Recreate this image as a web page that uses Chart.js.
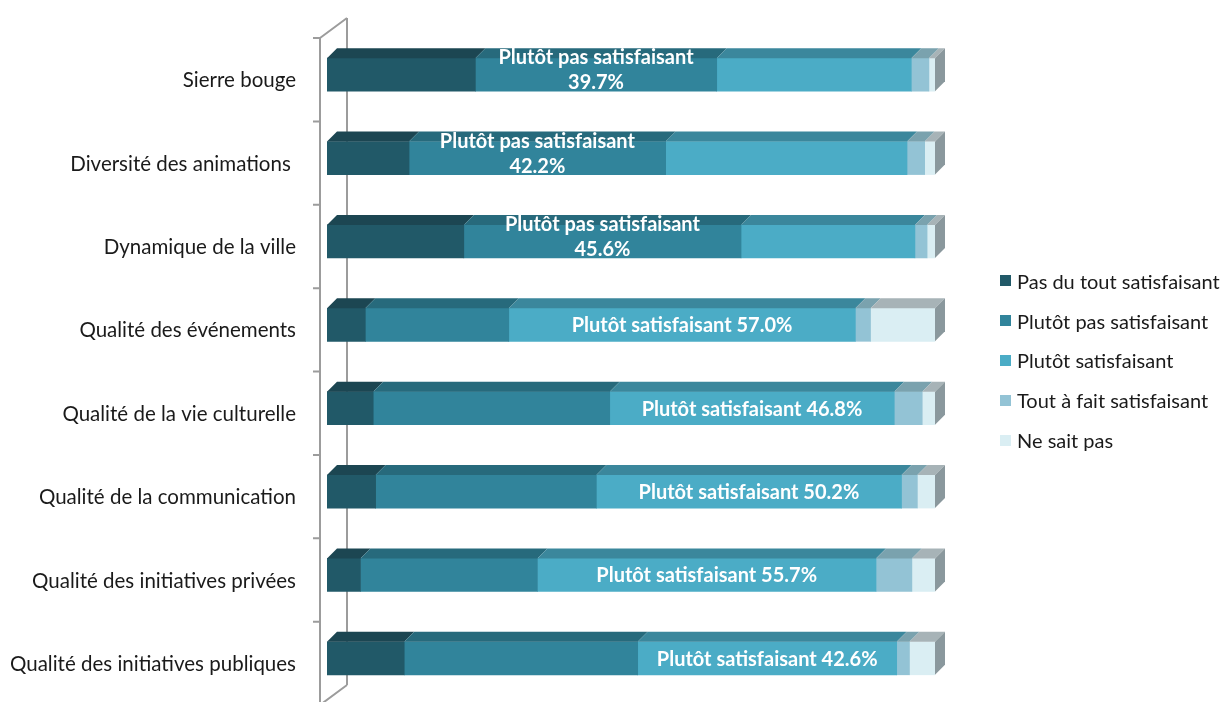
<!DOCTYPE html>
<html lang="fr">
<head>
<meta charset="utf-8">
<title>Satisfaction – animation et vie culturelle</title>
<script src="https://cdn.jsdelivr.net/npm/chart.js@4/dist/chart.umd.min.js"></script>
<style>
  html, body { margin: 0; padding: 0; background: #fff; }
  #wrap { position: relative; width: 1226px; height: 702px; overflow: hidden; }
  #chart { position: absolute; left: 0; top: 0; }
  #legend {
    position: absolute; left: 1000px; top: 261px;
    font-family: Lato, "Open Sans", sans-serif; font-size: 20px; color: #1a1a1a;
  }
  .item { display: flex; align-items: center; height: 39.8px; white-space: nowrap; }
  .swatch { width: 11px; height: 11px; margin-right: 6px; flex: none; }
</style>
</head>
<body>
<div id="wrap">
  <canvas id="chart" width="1226" height="702"></canvas>
  <div id="legend"></div>
</div>
<script>
"use strict";

const CATEGORIES = [
  "Sierre bouge",
  "Diversité des animations ",
  "Dynamique de la ville",
  "Qualité des événements",
  "Qualité de la vie culturelle",
  "Qualité de la communication",
  "Qualité des initiatives privées",
  "Qualité des initiatives publiques",
];

const SERIES_NAMES = [
  "Pas du tout satisfaisant",
  "Plutôt pas satisfaisant",
  "Plutôt satisfaisant",
  "Tout à fait satisfaisant",
  "Ne sait pas",
];

// share of answers in %, one value per category
const PAS_DU_TOUT = [24.4, 13.5, 22.5, 6.3, 7.6, 8.0, 5.5, 12.7];
const PLUTOT_PAS = [39.7, 42.2, 45.6, 23.6, 38.9, 36.3, 29.1, 38.4];
const PLUTOT_SAT = [32.0, 39.7, 28.6, 57.0, 46.8, 50.2, 55.7, 42.6];
const TOUT_A_FAIT = [2.9, 2.9, 2.0, 2.5, 4.6, 2.6, 5.9, 2.1];
const NE_SAIT_PAS = [1.0, 1.7, 1.3, 10.6, 2.1, 2.9, 3.8, 4.2];

const FRONT_COLORS = ["#215968", "#31849b", "#4bacc6", "#93c3d5", "#daeef3"];
const TOP_COLORS = ["#1c4652", "#276a7c", "#3b879c", "#7aa2ae", "#a7b3b7"];
const SIDE_COLOR = "#8a989d";
const WALL_COLOR = "#9c9c9c";
const DEPTH = 10;
const FONT = "Lato, 'Open Sans', sans-serif";

// 3D look: top faces of every segment, right-hand side face, and the axis wall
const bar3d = {
  id: "bar3d",
  beforeDatasetsDraw(chart) {
    const { ctx, chartArea: a } = chart;
    const n = CATEGORIES.length;
    const band = (a.bottom - a.top) / n;
    const fx = a.left - 7;
    const bx = a.left + 20;
    ctx.save();
    ctx.strokeStyle = WALL_COLOR;
    ctx.lineWidth = 2;
    ctx.beginPath();
    ctx.moveTo(fx, a.top + 5);
    ctx.lineTo(fx, a.bottom + 6);
    ctx.moveTo(bx, a.top - 15);
    ctx.lineTo(bx, a.bottom - 15);
    ctx.moveTo(fx, a.top + 5);
    ctx.lineTo(bx, a.top - 15);
    ctx.moveTo(fx, a.bottom + 5);
    ctx.lineTo(bx, a.bottom - 15);
    for (let k = 0; k <= n; k++) {
      const ty = a.top + 5 + band * k;
      ctx.moveTo(fx - 7, ty);
      ctx.lineTo(fx, ty);
    }
    ctx.stroke();
    ctx.restore();
  },
  afterDatasetsDraw(chart) {
    const { ctx } = chart;
    const last = chart.data.datasets.length - 1;
    ctx.save();
    chart.data.datasets.forEach((ds, di) => {
      const meta = chart.getDatasetMeta(di);
      meta.data.forEach((el) => {
        const { x, base, y, height } = el.getProps(["x", "base", "y", "height"], true);
        const x0 = Math.min(x, base);
        const x1 = Math.max(x, base);
        const top = y - height / 2;
        const bottom = y + height / 2;
        ctx.fillStyle = TOP_COLORS[di];
        ctx.beginPath();
        ctx.moveTo(x0, top);
        ctx.lineTo(x1, top);
        ctx.lineTo(x1 + DEPTH, top - DEPTH);
        ctx.lineTo(x0 + DEPTH, top - DEPTH);
        ctx.closePath();
        ctx.fill();
        if (di === last) {
          ctx.fillStyle = SIDE_COLOR;
          ctx.beginPath();
          ctx.moveTo(x1, top);
          ctx.lineTo(x1 + DEPTH, top - DEPTH);
          ctx.lineTo(x1 + DEPTH, bottom - DEPTH);
          ctx.lineTo(x1, bottom);
          ctx.closePath();
          ctx.fill();
        }
      });
    });
    ctx.restore();
  },
};

// label the largest segment of each bar with its series name and value
const biggestLabel = {
  id: "biggestLabel",
  afterDatasetsDraw(chart) {
    const { ctx } = chart;
    const sets = chart.data.datasets;
    ctx.save();
    ctx.fillStyle = "#ffffff";
    ctx.font = `bold 20px ${FONT}`;
    ctx.textAlign = "center";
    ctx.textBaseline = "middle";
    CATEGORIES.forEach((_, i) => {
      let best = 0;
      sets.forEach((ds, di) => { if (ds.data[i] > sets[best].data[i]) best = di; });
      const el = chart.getDatasetMeta(best).data[i];
      const { x, base, y } = el.getProps(["x", "base", "y"], true);
      const cx = (x + base) / 2;
      const value = `${sets[best].data[i].toFixed(1)}%`;
      if (best === 1) {
        ctx.fillText(sets[best].label, cx, y - 17);
        ctx.fillText(value, cx, y + 8);
      } else {
        ctx.fillText(`${sets[best].label} ${value}`, cx, y + 1);
      }
    });
    ctx.restore();
  },
};

const values = [PAS_DU_TOUT, PLUTOT_PAS, PLUTOT_SAT, TOUT_A_FAIT, NE_SAIT_PAS];

new Chart(document.getElementById("chart"), {
  type: "bar",
  data: {
    labels: CATEGORIES,
    datasets: values.map((data, i) => ({
      label: SERIES_NAMES[i],
      data,
      backgroundColor: FRONT_COLORS[i],
      borderWidth: 0,
      barThickness: 33,
    })),
  },
  options: {
    indexAxis: "y",
    responsive: false,
    animation: false,
    layout: { padding: { top: 33, bottom: 2, right: 291, left: 0 } },
    plugins: { legend: { display: false }, tooltip: { enabled: false } },
    scales: {
      x: { stacked: true, min: 0, max: 100, display: false },
      y: {
        stacked: true,
        grid: { display: false, drawTicks: false },
        border: { display: false },
        ticks: {
          padding: 31,
          labelOffset: 6,
          color: "#1a1a1a",
          font: { family: FONT, size: 20.5 },
        },
        afterFit(scale) {
          scale.width = 327;
          scale.paddingTop = 0;
          scale.paddingBottom = 0;
        },
      },
    },
  },
  plugins: [bar3d, biggestLabel],
});

const legend = document.getElementById("legend");
SERIES_NAMES.forEach((name, i) => {
  const item = document.createElement("div");
  item.className = "item";
  item.innerHTML = `<span class="swatch" style="background:${FRONT_COLORS[i]}"></span><span>${name}</span>`;
  legend.appendChild(item);
});
</script>
</body>
</html>
